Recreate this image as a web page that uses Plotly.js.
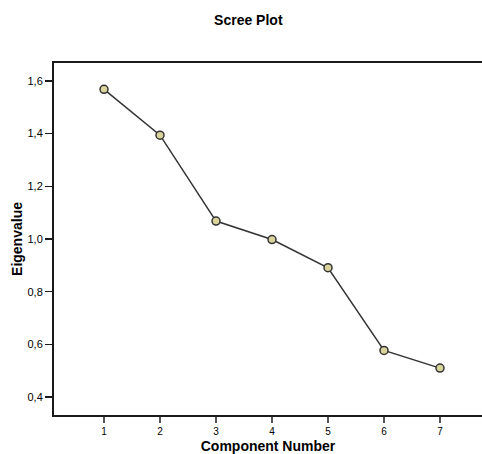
<!DOCTYPE html>
<html>
<head>
<meta charset="utf-8">
<script src="https://cdn.plot.ly/plotly-3.0.1.min.js"></script>
<style>html,body{margin:0;padding:0;background:#fff;}#chart{width:482px;height:454px;}</style>
</head>
<body>
<div id="chart"></div>
<script>
var components = [1, 2, 3, 4, 5, 6, 7];
var eigenvalues = [1.568, 1.394, 1.068, 0.998, 0.891, 0.577, 0.510];
var yTickVals = [0.4, 0.6, 0.8, 1.0, 1.2, 1.4, 1.6];
var yTickText = ['0,4', '0,6', '0,8', '1,0', '1,2', '1,4', '1,6'];

var trace = {
  x: components,
  y: eigenvalues,
  type: 'scatter',
  mode: 'lines+markers',
  line: {color: '#333333', width: 1.5},
  marker: {size: 8, color: '#d8d49c', line: {color: '#333333', width: 1.5}},
  hoverinfo: 'none'
};

var layout = {
  width: 482, height: 454,
  margin: {l: 54, r: 0, t: 63, b: 39, pad: 0},
  paper_bgcolor: '#ffffff', plot_bgcolor: '#ffffff',
  font: {family: 'Liberation Sans, Arial, sans-serif', color: '#000000', size: 11},
  showlegend: false,
  title: {text: '<b>Scree Plot</b>', font: {size: 14, color: '#000'}, xref: 'paper', x: 0.454, xanchor: 'center', yref: 'container', y: 0.955, yanchor: 'middle'},
  xaxis: {
    range: [0.107, 7.75], tickvals: components, ticktext: components.map(String),
    showgrid: false, zeroline: false,
    showline: true, linecolor: '#1a1a1a', linewidth: 2, mirror: true,
    ticks: 'outside', ticklen: 6, tickwidth: 1.5, tickcolor: '#555555',
    tickfont: {size: 10},
    title: {text: '<b>Component Number</b>', font: {size: 14}, standoff: 8}
  },
  yaxis: {
    range: [0.332, 1.668], tickvals: yTickVals, ticktext: yTickText,
    showgrid: false, zeroline: false,
    showline: true, linecolor: '#1a1a1a', linewidth: 2,
    ticks: 'outside', ticklen: 7, tickwidth: 1.5, tickcolor: '#1a1a1a',
    tickfont: {size: 11},
    title: {text: '<b>Eigenvalue</b>', font: {size: 14}, standoff: 2}
  }
};

Plotly.newPlot('chart', [trace], layout, {staticPlot: true, displayModeBar: false});
</script>
</body>
</html>
